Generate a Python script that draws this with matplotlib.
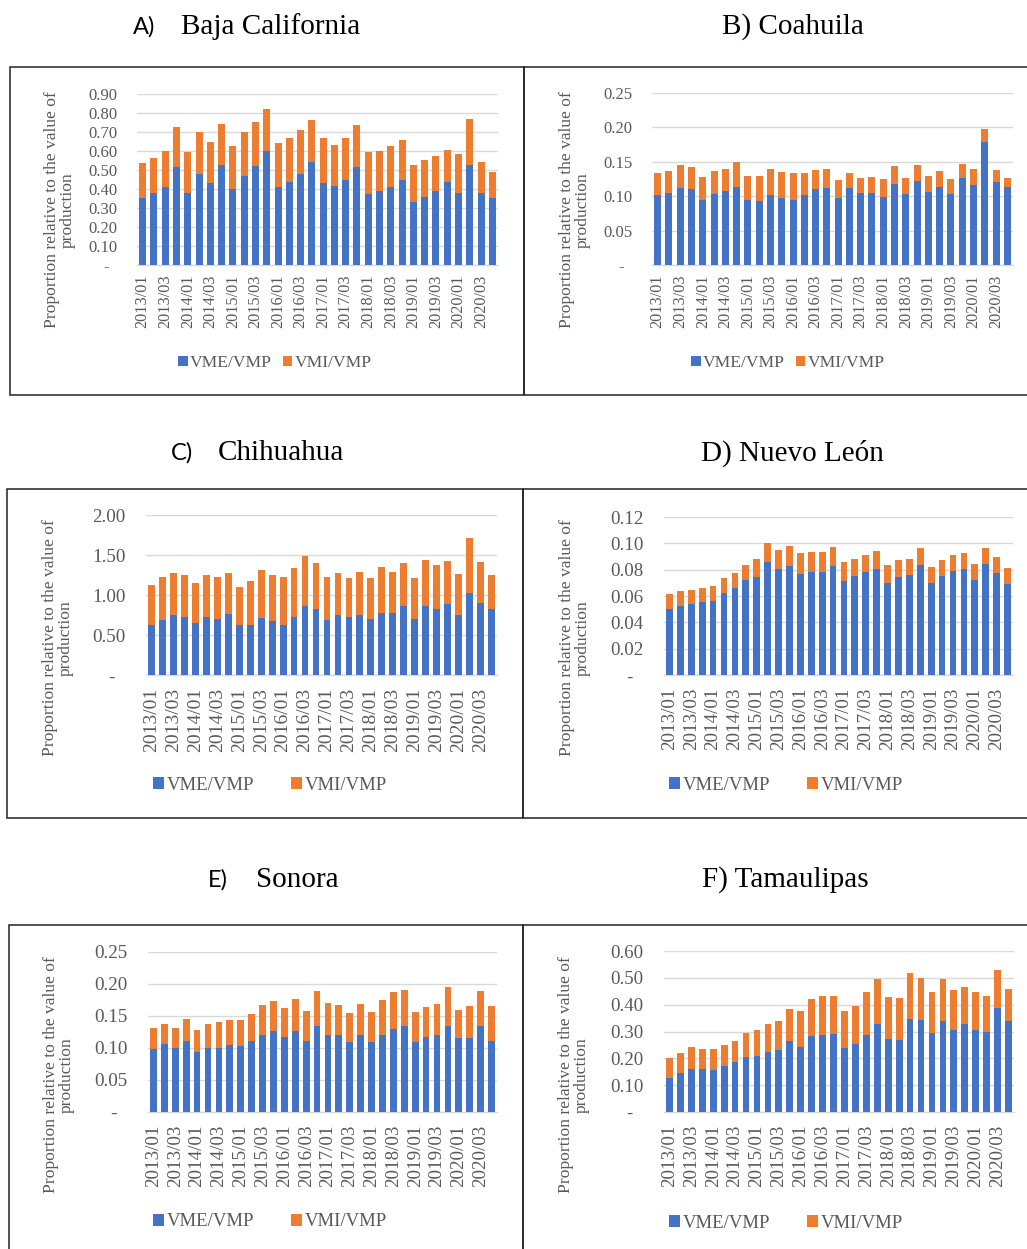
import matplotlib
matplotlib.use("Agg")
import matplotlib.pyplot as plt
import numpy as np
from matplotlib.patches import Rectangle
from matplotlib.ticker import FixedLocator, FuncFormatter

# Quarterly periods 2013/01 .. 2020/04
quarters = [f"{y}/{q:02d}" for y in range(2013, 2021) for q in range(1, 5)]

# Exports / production (VME/VMP) and imports / production (VMI/VMP)
bc_vme = [0.353, 0.381, 0.408, 0.518, 0.381, 0.478, 0.432, 0.527, 0.399, 0.467, 0.520, 0.601,
          0.408, 0.439, 0.478, 0.540, 0.429, 0.417, 0.446, 0.518, 0.376, 0.387, 0.409, 0.446,
          0.332, 0.359, 0.390, 0.438, 0.381, 0.527, 0.381, 0.353]
bc_vmi = [0.185, 0.181, 0.191, 0.206, 0.215, 0.221, 0.213, 0.216, 0.228, 0.232, 0.234, 0.218,
          0.232, 0.227, 0.232, 0.223, 0.242, 0.216, 0.222, 0.220, 0.220, 0.212, 0.217, 0.210,
          0.195, 0.196, 0.186, 0.167, 0.202, 0.243, 0.160, 0.136]

coa_vme = [0.102, 0.105, 0.112, 0.110, 0.095, 0.103, 0.107, 0.114, 0.094, 0.093, 0.102, 0.098,
           0.095, 0.102, 0.110, 0.112, 0.098, 0.112, 0.104, 0.104, 0.099, 0.118, 0.103, 0.122,
           0.106, 0.114, 0.103, 0.127, 0.116, 0.179, 0.121, 0.113]
coa_vmi = [0.032, 0.031, 0.033, 0.033, 0.033, 0.033, 0.033, 0.035, 0.036, 0.037, 0.038, 0.037,
           0.038, 0.032, 0.028, 0.027, 0.025, 0.022, 0.023, 0.024, 0.026, 0.026, 0.023, 0.023,
           0.023, 0.022, 0.022, 0.020, 0.023, 0.018, 0.017, 0.014]

chi_vme = [0.621, 0.692, 0.746, 0.729, 0.646, 0.721, 0.700, 0.767, 0.621, 0.629, 0.713, 0.675,
           0.625, 0.725, 0.867, 0.821, 0.683, 0.754, 0.721, 0.746, 0.696, 0.771, 0.779, 0.863,
           0.700, 0.863, 0.821, 0.892, 0.754, 1.021, 0.896, 0.821]
chi_vmi = [0.508, 0.529, 0.525, 0.517, 0.504, 0.525, 0.521, 0.504, 0.483, 0.542, 0.600, 0.571,
           0.604, 0.608, 0.621, 0.575, 0.538, 0.517, 0.492, 0.537, 0.521, 0.583, 0.513, 0.541,
           0.517, 0.570, 0.554, 0.533, 0.513, 0.687, 0.512, 0.429]

nl_vme = [0.0504, 0.0527, 0.0539, 0.0552, 0.0559, 0.0625, 0.0658, 0.0722, 0.0744, 0.0858, 0.0803, 0.0828,
          0.0767, 0.0782, 0.0785, 0.0825, 0.0716, 0.0754, 0.0782, 0.0805, 0.0701, 0.0742, 0.0757, 0.0833,
          0.0696, 0.0752, 0.0790, 0.0805, 0.0722, 0.0843, 0.0775, 0.0694]
nl_vmi = [0.0111, 0.0108, 0.0109, 0.0111, 0.0114, 0.0112, 0.0114, 0.0113, 0.0140, 0.0142, 0.0146, 0.0152,
          0.0157, 0.0150, 0.0152, 0.0150, 0.0142, 0.0130, 0.0127, 0.0134, 0.0134, 0.0129, 0.0121, 0.0134,
          0.0127, 0.0124, 0.0119, 0.0122, 0.0121, 0.0122, 0.0121, 0.0121]

son_vme = [0.098, 0.106, 0.100, 0.111, 0.093, 0.100, 0.100, 0.104, 0.103, 0.111, 0.120, 0.126,
           0.117, 0.126, 0.111, 0.135, 0.121, 0.120, 0.109, 0.120, 0.109, 0.120, 0.130, 0.135,
           0.109, 0.117, 0.120, 0.135, 0.116, 0.116, 0.134, 0.111]
son_vmi = [0.034, 0.032, 0.032, 0.035, 0.035, 0.037, 0.040, 0.040, 0.040, 0.042, 0.047, 0.047,
           0.045, 0.050, 0.047, 0.054, 0.050, 0.047, 0.045, 0.049, 0.047, 0.055, 0.057, 0.055,
           0.047, 0.047, 0.049, 0.061, 0.044, 0.049, 0.055, 0.055]

tam_vme = [0.128, 0.144, 0.161, 0.159, 0.155, 0.172, 0.186, 0.204, 0.208, 0.223, 0.230, 0.265,
           0.242, 0.283, 0.286, 0.290, 0.237, 0.253, 0.286, 0.327, 0.271, 0.270, 0.346, 0.342,
           0.296, 0.338, 0.307, 0.328, 0.304, 0.300, 0.388, 0.338]
tam_vmi = [0.072, 0.077, 0.082, 0.076, 0.080, 0.078, 0.079, 0.090, 0.099, 0.104, 0.110, 0.118,
           0.135, 0.137, 0.146, 0.144, 0.141, 0.142, 0.161, 0.170, 0.157, 0.153, 0.171, 0.156,
           0.151, 0.159, 0.148, 0.137, 0.145, 0.132, 0.141, 0.122]

series_names = ["VME/VMP", "VMI/VMP"]
ylabel_text = "Proportion relative to the value of\nproduction"

BLUE = "#4472C4"
ORANGE = "#ED7D31"
GRID = "#D9D9D9"
TXT = "#595959"
SERIF = "Liberation Serif"
SANS = "Lato"

W, H = 1027, 1249
fig = plt.figure(figsize=(W / 100, H / 100), dpi=100)
fig.patch.set_facecolor("white")


def fxy(x, y):
    return x / W, 1 - y / H


def frame(x0, y0, x1, y1):
    fig.patches.append(Rectangle(fxy(x0, y1), (x1 - x0) / W, (y1 - y0) / H,
                                 transform=fig.transFigure, fill=False,
                                 edgecolor="#222222", linewidth=1.1))


def tick_fmt(v, _):
    if abs(v) < 1e-12:
        return "-  "
    return f"{v:.2f}"


panels = [
    dict(letter="A)", name="Baja California", vme=bc_vme, vmi=bc_vmi, ymax=0.90, step=0.10,
         box=(137, 498, 94, 265), frame=(10, 67, 524, 395),
         title=(133, 181, 27), ylab=(60, 210), leg=(275, 363),
         ytk=12, xtk=11.7, lgs=12.6, cs=0.6, pad=7, ypad=14),
    dict(letter=None, name="B) Coahuila", vme=coa_vme, vmi=coa_vmi, ymax=0.25, step=0.05,
         box=(652, 1013, 93, 265), frame=(524, 67, 1032, 395),
         title=(793, None, 27), ylab=(575, 210), leg=(788, 363),
         ytk=12, xtk=11.7, lgs=12.6, cs=0.6, pad=7, ypad=14),
    dict(letter="C)", name="Chihuahua", vme=chi_vme, vmi=chi_vmi, ymax=2.0, step=0.5,
         box=(146, 497, 515, 675), frame=(7, 489, 523, 818),
         title=(171, 218, 453), ylab=(58, 638), leg=(270, 785),
         ytk=13.8, xtk=14, lgs=13.5, cs=2.0, pad=9, ypad=15),
    dict(letter=None, name="D) Nuevo León", vme=nl_vme, vmi=nl_vmi, ymax=0.12, step=0.02,
         box=(664, 1013, 517, 675), frame=(523, 489, 1032, 818),
         title=(792, None, 453), ylab=(575, 638), leg=(786, 785),
         ytk=13.6, xtk=13.7, lgs=13.5, cs=2.0, pad=9, ypad=15),
    dict(letter="E)", name="Sonora", vme=son_vme, vmi=son_vmi, ymax=0.25, step=0.05,
         box=(148, 497, 952, 1112), frame=(9, 925, 523, 1260),
         title=(208, 256, 880), ylab=(59, 1075), leg=(270, 1222),
         ytk=13.8, xtk=13.7, lgs=13.5, cs=2.0, pad=9, ypad=15),
    dict(letter=None, name="F) Tamaulipas", vme=tam_vme, vmi=tam_vmi, ymax=0.60, step=0.10,
         box=(664, 1014, 951, 1112), frame=(523, 925, 1032, 1260),
         title=(785, None, 880), ylab=(574, 1075), leg=(786, 1223),
         ytk=13.6, xtk=13.7, lgs=13.5, cs=2.0, pad=9, ypad=15),
]

x = np.arange(len(quarters))

for p in panels:
    l, r, t, b = p["box"]
    ax = fig.add_axes([l / W, 1 - b / H, (r - l) / W, (b - t) / H])
    vme = np.array(p["vme"])
    vmi = np.array(p["vmi"])
    ax.bar(x, vme, width=0.62, color=BLUE, label=series_names[0], zorder=3)
    ax.bar(x, vmi, width=0.62, bottom=vme, color=ORANGE, label=series_names[1], zorder=3)

    ax.set_xlim(-0.5, len(quarters) - 0.5)
    ax.set_ylim(0, p["ymax"])
    yt = np.round(np.arange(0, p["ymax"] + p["step"] / 2, p["step"]), 4)
    ax.yaxis.set_major_locator(FixedLocator(yt))
    ax.yaxis.set_major_formatter(FuncFormatter(tick_fmt))
    ax.grid(axis="y", color=GRID, linewidth=1.0, zorder=0)
    ax.set_axisbelow(True)

    ax.set_xticks(x[::2])
    ax.set_xticklabels(quarters[::2], rotation=90, va="top", ha="center")

    for s in ("top", "right", "left"):
        ax.spines[s].set_visible(False)
    ax.spines["bottom"].set_color(GRID)
    ax.spines["bottom"].set_linewidth(1.0)
    ax.tick_params(axis="both", length=0, colors=TXT)
    ax.tick_params(axis="y", pad=p["ypad"], labelsize=p["ytk"])
    ax.tick_params(axis="x", pad=p["pad"], labelsize=p["xtk"])
    for lab in ax.get_xticklabels() + ax.get_yticklabels():
        lab.set_fontfamily(SERIF)
        lab.set_color(TXT)
    ax.set_facecolor("none")

    # y-axis caption
    yx, yy = fxy(*p["ylab"])
    fig.text(yx, yy, ylabel_text, rotation=90, ha="center", va="center",
             multialignment="center", fontsize=12.6, color=TXT, family=SERIF,
             linespacing=1.0)

    # legend
    lx, ly = fxy(*p["leg"])
    leg = ax.legend(ncol=2, loc="center", bbox_to_anchor=(lx, ly),
                    bbox_transform=fig.transFigure, frameon=False,
                    handlelength=0.55, handleheight=0.55, handletextpad=0.15,
                    columnspacing=p["cs"], prop={"family": SERIF, "size": p["lgs"]})
    for txt in leg.get_texts():
        txt.set_color(TXT)

    # panel frame
    frame(*p["frame"])

    # panel title
    tx, nx, ty = p["title"]
    if p["letter"]:
        fig.text(*fxy(tx, ty), p["letter"], ha="left", va="center",
                 fontsize=17, family=SANS, color="black")
        fig.text(*fxy(nx, ty), p["name"], ha="left", va="center",
                 fontsize=21, family=SERIF, color="black")
    else:
        fig.text(*fxy(tx, ty), p["name"], ha="center", va="center",
                 fontsize=21, family=SERIF, color="black")

fig.savefig("out.png", dpi=100, facecolor="white")
